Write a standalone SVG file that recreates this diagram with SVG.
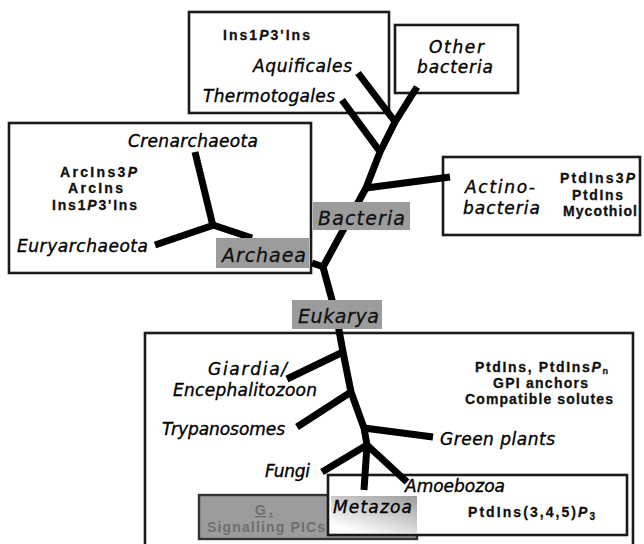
<svg xmlns="http://www.w3.org/2000/svg" width="644" height="544" viewBox="0 0 644 544">
<defs>
<style>
.box{fill:#fff;stroke:#1a1a1a;stroke-width:2.6}
.lbl{fill:#9c9c9c;stroke:none}
.br{stroke:#000;stroke-width:7;fill:none;stroke-linecap:butt;stroke-linejoin:round}
.tx{font-family:"DejaVu Sans",sans-serif;font-style:italic;font-size:17px;fill:#000;stroke:#000;stroke-width:0.35}
.tl{font-family:"DejaVu Sans",sans-serif;font-style:italic;font-size:19px;fill:#111;stroke:#111;stroke-width:0.3}
.mo{font-family:"Liberation Sans",Arial,sans-serif;font-weight:bold;font-size:14px;fill:#111;stroke:#111;stroke-width:0.3}
.gr{font-family:"Liberation Sans",Arial,sans-serif;font-weight:bold;font-size:14px;fill:#6f6f6f}
</style>
<linearGradient id="metaGrad" x1="1" y1="0" x2="0.3" y2="1">
<stop offset="0" stop-color="#9c9c9c"/>
<stop offset="0.45" stop-color="#c8c8c8"/>
<stop offset="1" stop-color="#ffffff"/>
</linearGradient>
</defs>
<rect width="644" height="544" fill="#fff"/>

<g id="bacteria-top-box">
<rect class="box" x="189" y="12" width="200" height="101"/>
<text class="mo" x="223" y="40" textLength="87">Ins1<tspan font-style="italic">P</tspan>3'Ins</text>
</g>
<g id="other-bacteria">
<rect class="box" x="395" y="25" width="123" height="68"/>
<text class="tx" x="429" y="53" textLength="55">Other</text>
<text class="tx" x="417" y="73" textLength="76">bacteria</text>
</g>
<g id="archaea-box">
<rect class="box" x="9" y="123" width="302" height="150"/>
<text class="mo" x="60" y="177" textLength="77">ArcIns3<tspan font-style="italic">P</tspan></text>
<text class="mo" x="68" y="193" textLength="55">ArcIns</text>
<text class="mo" x="52" y="210" textLength="85">Ins1<tspan font-style="italic">P</tspan>3'Ins</text>
</g>
<g id="actino-box">
<rect class="box" x="443" y="157" width="197" height="78"/>
<text class="mo" x="560" y="183" textLength="75">PtdIns3<tspan font-style="italic">P</tspan></text>
<text class="mo" x="572" y="200" textLength="51">PtdIns</text>
<text class="mo" x="563" y="216" textLength="74">Mycothiol</text>
</g>
<g id="eukarya-box">
<rect class="box" x="145" y="333" width="488" height="230"/>
<text class="mo" x="475" y="372" textLength="133">PtdIns, PtdIns<tspan font-style="italic">P</tspan><tspan font-size="9" dy="2">n</tspan></text>
<text class="mo" x="493" y="388" textLength="95">GPI anchors</text>
<text class="mo" x="465" y="404" textLength="148">Compatible solutes</text>
</g>
<g id="signalling-pics">
<rect x="199" y="495" width="218" height="44" fill="#9c9c9c" stroke="#333" stroke-width="2.4"/>
<text class="gr" x="255" y="515" textLength="18" text-decoration="underline">G.</text>
<text class="gr" x="207" y="532" textLength="118">Signalling PICs</text>
</g>
<g id="metazoa-box">
<rect class="box" x="328" y="475" width="299" height="60"/>
<rect x="331" y="496" width="86" height="37" fill="url(#metaGrad)"/>
<text class="mo" x="468" y="517" textLength="127">PtdIns(3,4,5)<tspan font-style="italic">P</tspan><tspan font-size="10" dy="3">3</tspan></text>
</g>

<g id="connectors">
<line class="br" x1="417" y1="87" x2="395" y2="122"/>
<line class="br" x1="358" y1="73" x2="396" y2="123"/>
<line class="br" x1="342" y1="100" x2="381" y2="153"/>
<polyline class="br" points="395,122 380,152 366,188 323,267 332,300 339,330 343,352 351,392 364,428 367,445"/>
<line class="br" x1="366" y1="188" x2="450" y2="177"/>
<line class="br" x1="312" y1="263" x2="324" y2="267"/>
<line class="br" x1="195" y1="152" x2="213" y2="226"/>
<line class="br" x1="155" y1="245" x2="214" y2="225"/>
<line class="br" x1="213" y1="225" x2="252" y2="238"/>
<line class="br" x1="343" y1="352" x2="287" y2="379"/>
<line class="br" x1="351" y1="392" x2="297" y2="427"/>
<line class="br" x1="364" y1="428" x2="433" y2="437"/>
<line class="br" x1="367" y1="445" x2="322" y2="472"/>
<line class="br" x1="367" y1="445" x2="364" y2="490"/>
<line class="br" x1="367" y1="445" x2="407" y2="482"/>
</g>

<g id="bacteria-label">
<rect class="lbl" x="313" y="202" width="97" height="28"/>
<text class="tl" x="318" y="225" textLength="87">Bacteria</text>
</g>
<g id="archaea-label">
<rect class="lbl" x="216" y="238" width="93" height="30"/>
<text class="tl" x="222" y="262" textLength="84">Archaea</text>
</g>
<g id="eukarya-label">
<rect class="lbl" x="292" y="300" width="90" height="29"/>
<text class="tl" x="298" y="323" textLength="81">Eukarya</text>
</g>

<g id="aquificales"><text class="tx" x="253" y="72" textLength="99">Aquificales</text></g>
<g id="thermotogales"><text class="tx" x="203" y="102" textLength="132">Thermotogales</text></g>
<g id="crenarchaeota"><text class="tx" x="128" y="147" textLength="130">Crenarchaeota</text></g>
<g id="euryarchaeota"><text class="tx" x="17" y="252" textLength="131">Euryarchaeota</text></g>
<g id="actinobacteria">
<text class="tx" x="465" y="193" textLength="70">Actino-</text>
<text class="tx" x="463" y="214" textLength="77">bacteria</text>
</g>
<g id="giardia">
<text class="tx" x="208" y="375" textLength="79">Giardia/</text>
<text class="tx" x="173" y="396" textLength="144">Encephalitozoon</text>
</g>
<g id="trypanosomes"><text class="tx" x="162" y="435" textLength="123">Trypanosomes</text></g>
<g id="green-plants"><text class="tx" x="440" y="445" textLength="115">Green plants</text></g>
<g id="fungi"><text class="tx" x="265" y="477" textLength="45">Fungi</text></g>
<g id="amoebozoa"><text class="tx" x="405" y="492" textLength="100">Amoebozoa</text></g>
<g id="metazoa"><text class="tx" x="333" y="513" textLength="79">Metazoa</text></g>
</svg>
